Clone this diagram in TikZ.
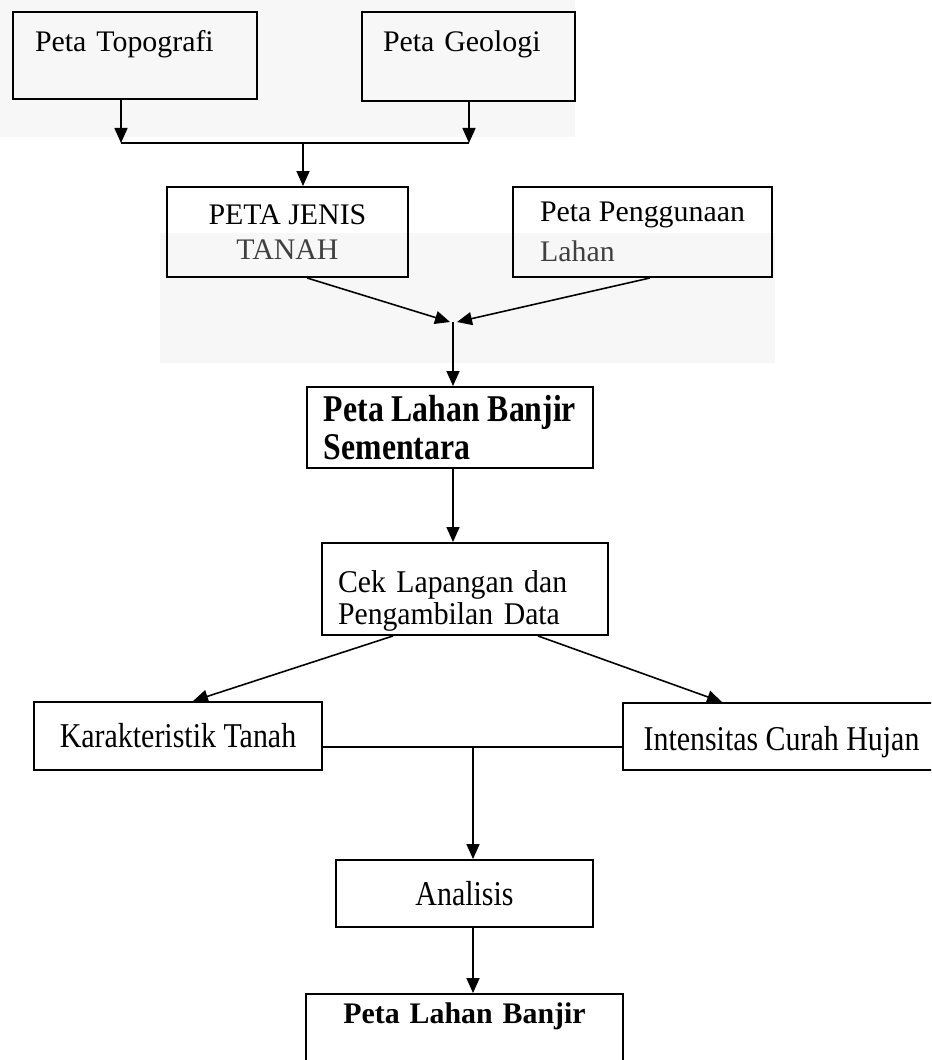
\documentclass[tikz,border=0pt]{standalone}
\usepackage{fontspec}
\setmainfont{Liberation Serif}
\usetikzlibrary{arrows.meta}

\begin{document}
\begin{tikzpicture}[x=0.02cm, y=-0.02cm,
		box/.style = {draw, line width=1.1pt, inner sep=0pt, font=\fontsize{17pt}{20pt}\selectfont},
		tall/.style = {font=\fontsize{19.8pt}{22pt}\selectfont\addfontfeature{FakeStretch=0.86}},
		arr/.style = {line width=0.9pt, -{Triangle[length=3mm, width=2.6mm]}},
		lin/.style = {line width=0.9pt}]
		\useasboundingbox (0,0) rectangle (931,1060);
		\clip (0,0) rectangle (931,1060);
		\fill[black!3] (0,0) rectangle (575,137);
		\fill[black!3] (160,233) rectangle (775,363);

		\node[box, text width=4cm, inner xsep=0.44cm, text height=0.8cm, text depth=0.94cm, align=left] (topo) at (135,55.5) {Peta Topografi};
		\node[box, text width=3.42cm, inner xsep=0.42cm, text height=0.8cm, text depth=0.98cm, align=left] (geo) at (468.5,56.5) {Peta Geologi};
		\node[box, minimum width=4.82cm, minimum height=1.8cm, align=center, font=\fontsize{17pt}{19.9pt}\selectfont] (jenis) at (287.5,232) {PETA JENIS\\\textcolor{black!75}{TANAH}};
		\node[box, minimum width=5.18cm, minimum height=1.8cm, align=left, font=\fontsize{17pt}{22.7pt}\selectfont] (guna) at (642.5,232) {Peta Penggunaan\\\textcolor{black!75}{Lahan}};
		\node[box, minimum width=5.72cm, minimum height=1.62cm, align=left, font=\fontsize{21.5pt}{22pt}\selectfont\bfseries\addfontfeature{FakeStretch=0.84}] (sem) at (450,427.5) {Peta Lahan Banjir\\Sementara};
		\node[box, text width=5.08cm, inner xsep=0.32cm, minimum height=1.84cm, align=left, font=\fontsize{18pt}{18.2pt}\selectfont\addfontfeature{FakeStretch=0.94}] (cek) at (465,589) {\rule{0pt}{0.9cm}Cek Lapangan dan\\Pengambilan Data};
		\node[box, tall, minimum width=5.76cm, minimum height=1.36cm] (kar) at (178,736) {Karakteristik Tanah};
		\node[box, tall, minimum width=6.34cm, minimum height=1.34cm] (hujan) at (781.5,736.5) {\rule{0pt}{0.72cm}Intensitas Curah Hujan};
		\node[box, tall, minimum width=5.14cm, minimum height=1.34cm] (ana) at (464.5,893.5) {Analisis};
		\node[box, text width=6.34cm, align=center, text height=0.58cm, text depth=0.94cm, font=\bfseries\fontsize{17pt}{20pt}\selectfont] (hasil) at (464.5,1032) {Peta Lahan Banjir};

		\coordinate (t1) at (121,143);
		\coordinate (t2) at (469,143);
		\coordinate (t3) at (303,143);
		\draw[arr] (topo.south -| t1) -- (t1);
		\draw[arr] (geo.south -| t2) -- (t2);
		\draw[lin] (t1) -- (t2);
		\draw[arr] (t3) -- (jenis.north -| t3);

		\coordinate (m1) at (453,322);
		\draw[arr] ([xshift=0.39cm]jenis.south) -- ([xshift=-0.06cm]m1);
		\draw[arr] ([xshift=0.15cm]guna.south) -- ([xshift=0.08cm]m1);
		\draw[arr] (m1) -- (sem.north -| m1);
		\draw[arr] (sem.south -| m1) -- (cek.north -| m1);

		\draw[arr] ([xshift=-1.44cm]cek.south) -- ([xshift=0.3cm]kar.north);
		\draw[arr] ([xshift=1.46cm]cek.south) -- ([xshift=-1.19cm]hujan.north);

		\coordinate (m2) at (473,747);
		\draw[lin] (kar.east |- m2) -- (hujan.west |- m2);
		\draw[arr] (m2) -- (ana.north -| m2);
		\draw[arr] (ana.south -| m2) -- (hasil.north -| m2);
\end{tikzpicture}
\end{document}
